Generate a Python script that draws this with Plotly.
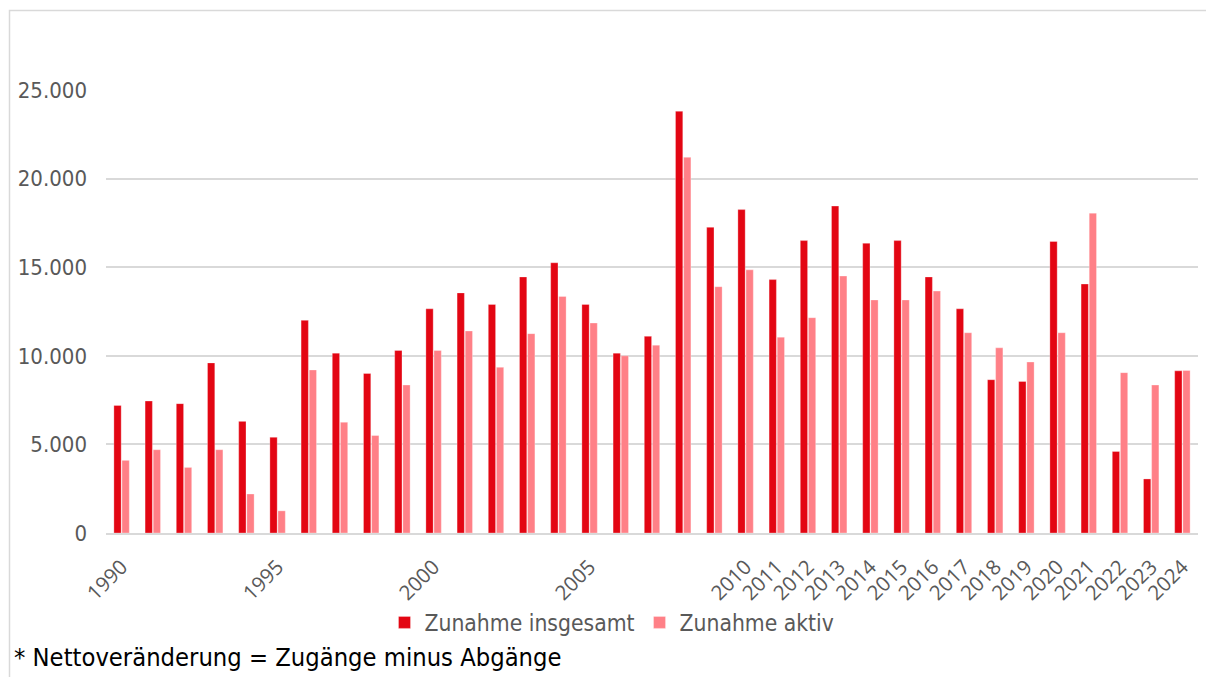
import plotly.graph_objects as go

years = [str(y) for y in range(1990, 2025)]
zunahme_insgesamt = [7200, 7450, 7300, 9600, 6300, 5400, 12000, 10150, 9000, 10300,
                     12650, 13550, 12900, 14450, 15250, 12900, 10150, 11100, 23800, 17250,
                     18250, 14300, 16500, 18450, 16350, 16500, 14450, 12650, 8650, 8550,
                     16450, 14050, 4600, 3050, 9150]
zunahme_aktiv = [4100, 4700, 3700, 4700, 2200, 1250, 9200, 6250, 5500, 8350,
                 10300, 11400, 9350, 11250, 13350, 11850, 10000, 10600, 21200, 13900,
                 14850, 11050, 12150, 14500, 13150, 13150, 13650, 11300, 10450, 9650,
                 11300, 18050, 9050, 8350, 9170]
shown_ticks = ["1990", "1995", "2000", "2005"] + [str(y) for y in range(2010, 2025)]
y_ticks = [0, 5000, 10000, 15000, 20000, 25000]
y_tick_labels = ["0", "5.000", "10.000", "15.000", "20.000", "25.000"]
series_names = ["Zunahme insgesamt", "Zunahme aktiv"]
footnote = "* Nettoveränderung = Zugänge minus Abgänge"

# page body has an 8px default margin; work in page pixels and convert
OFF = 8
PAGE_W, PAGE_H = 1214, 677
W, H = PAGE_W - OFF, PAGE_H - OFF
plot_left, plot_right, plot_top, plot_bottom = 106, 1198, 90, 533.3  # page px
L = plot_left - OFF
R = PAGE_W - plot_right
T = plot_top - OFF
B = H - (plot_bottom - OFF)
pw = plot_right - plot_left
ph = plot_bottom - plot_top


def px_x(x):
    return (x - plot_left) / pw


def px_y(y):
    return (plot_bottom - y) / ph


fig = go.Figure()
fig.add_trace(go.Bar(x=years, y=zunahme_insgesamt, name=series_names[0],
                     marker=dict(color="#E30613", line=dict(color="rgba(255,255,255,0.6)", width=0.5))))
fig.add_trace(go.Bar(x=years, y=zunahme_aktiv, name=series_names[1],
                     marker=dict(color="#FF8087", line=dict(color="rgba(255,255,255,0.6)", width=0.5))))

fig.update_layout(
    width=W, height=H,
    margin=dict(l=L, r=R, t=T, b=B, autoexpand=False),
    paper_bgcolor="white", plot_bgcolor="white",
    barmode="group", bargap=0.48, bargroupgap=0.1,
    showlegend=True,
    legend=dict(orientation="h", x=px_x(612), xanchor="center", y=px_y(623), yanchor="middle",
                font=dict(family="DejaVu Sans Condensed", size=22.7, color="#595959"),
                bgcolor="rgba(0,0,0,0)"),
    xaxis=dict(type="category", tickmode="array", tickvals=shown_ticks, ticktext=shown_ticks,
               tickangle=-45, tickfont=dict(family="Open Sans", size=20.5, color="#595959"),
               showgrid=False, showline=True, linecolor="#D9D9D9", linewidth=1.5, ticks="",
               ticklabelstandoff=12),
    yaxis=dict(range=[0, 25000], tickmode="array", tickvals=y_ticks, ticktext=y_tick_labels,
               tickfont=dict(family="DejaVu Sans Condensed", size=22, color="#595959"),
               showgrid=True, gridcolor="#D9D9D9", gridwidth=1.5, zeroline=False,
               showline=False, ticks="", ticklabelstandoff=18),
    shapes=[dict(type="rect", xref="paper", yref="paper", x0=px_x(9.5), x1=px_x(1230),
                 y0=px_y(10.5), y1=px_y(700), line=dict(color="#D9D9D9", width=1.5),
                 layer="below")],
    annotations=[dict(text=footnote, xref="paper", yref="paper", x=px_x(12), y=px_y(658),
                      xanchor="left", yanchor="middle", showarrow=False,
                      font=dict(family="DejaVu Sans Condensed", size=25.3, color="black"))],
)

fig.write_html("out.html")
